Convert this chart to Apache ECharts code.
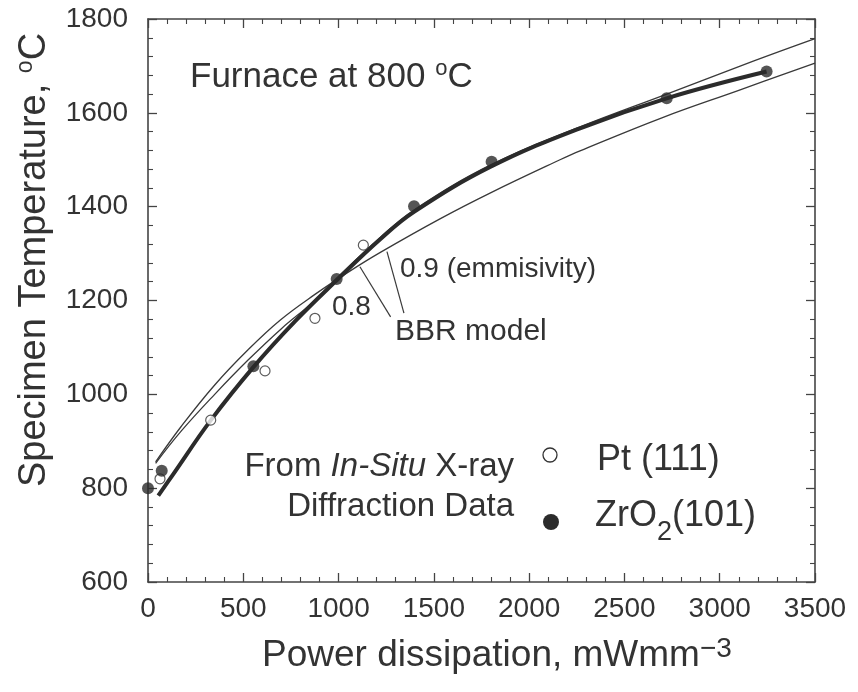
<!DOCTYPE html>
<html>
<head>
<meta charset="utf-8">
<script src="https://cdn.jsdelivr.net/npm/echarts@6/dist/echarts.min.js"></script>
<style>
html,body{margin:0;padding:0;background:#fff;}
#chart{width:858px;height:692px;}
</style>
</head>
<body>
<div id="chart"></div>
<script>
// ---- data ----
const xMin = 0, xMax = 3500, xStep = 500;
const yMin = 600, yMax = 1800, yStep = 200;

// ZrO2 (101) - filled circles
const zro2Points = [[0,800],[72,837],[553,1060],[990,1246],[1396,1401],[1803,1496],[2722,1631],[3246,1688]];
// Pt (111) - open circles
const ptPoints = [[63,820],[329,945],[614,1050],[876,1162],[1130,1318]];
// thick fitted curve through the data
const fitCurve = [[54,784],[131,829],[330,945],[553,1058],[770,1155],[990,1243],[1217,1330],[1396,1389],[1803,1486],[2267,1567],[2722,1631],[3246,1688]];
// BBR model curves (emissivity 0.8 and 0.9)
const bbr08 = [[40,853],[175,922],[350,1000],[525,1073],[700,1140],[876,1200],[990,1248],[1217,1334],[1396,1393],[1803,1490],[2267,1570],[2722,1640],[3176,1710],[3500,1758]];
const bbr09 = [[40,856],[175,932],[350,1020],[525,1095],[693,1158],[876,1213],[1049,1260],[1217,1302],[1532,1374],[1800,1430],[2162,1500],[2267,1519],[2700,1590],[3100,1648],[3500,1706]];
// annotation leader lines
const leader08 = [[1112,1272],[1273,1165]];
const leader09 = [[1254,1304],[1343,1173]];

const FONT = '"Liberation Sans", Arial, Helvetica, sans-serif';
const INK = '#333';
const AX = '#444';

const chart = echarts.init(document.getElementById('chart'));

function axisCommon(labels, margin){
  return {
    axisLine:{show:true, onZero:false, lineStyle:{color:AX, width:1.6}},
    axisTick:{show:true, inside:true, length:9, lineStyle:{color:AX, width:1.3}},
    minorTick:{show:true, splitNumber:5, length:5, lineStyle:{color:AX, width:1.1}},
    splitLine:{show:false},
    axisLabel:{show:labels, fontSize:28, color:INK, fontFamily:FONT, margin:margin,
               formatter:(v)=>String(v)}
  };
}
function xAx(pos, labels){
  return Object.assign({type:'value', min:xMin, max:xMax, interval:xStep, position:pos}, axisCommon(labels, 13));
}
function yAx(pos, labels){
  return Object.assign({type:'value', min:yMin, max:yMax, interval:yStep, position:pos}, axisCommon(labels, 20));
}

const thin = (data) => ({
  type:'line', data:data, smooth:0.4, symbol:'none', silent:true,
  lineStyle:{color:'#3a3a3a', width:1.3}, z:2
});

const option = {
  animation:false,
  grid:{left:148, top:19, width:667, height:563},
  xAxis:[xAx('bottom', true), xAx('top', false)],
  yAxis:[yAx('left', true), yAx('right', false)],
  series:[
    thin(bbr08),
    thin(bbr09),
    {type:'line', data:leader08, symbol:'none', silent:true, lineStyle:{color:'#3a3a3a', width:1.2}, z:2},
    {type:'line', data:leader09, symbol:'none', silent:true, lineStyle:{color:'#3a3a3a', width:1.2}, z:2},
    {type:'line', data:fitCurve, smooth:0.4, symbol:'none',
      lineStyle:{color:'#2b2b2b', width:4}, z:3},
    {type:'scatter', data:ptPoints, symbol:'circle', symbolSize:10,
      itemStyle:{color:'#fff', borderColor:'#333', borderWidth:1.2}, z:4},
    {type:'scatter', data:zro2Points, symbol:'circle', symbolSize:12,
      itemStyle:{color:'#2b2b2b'}, z:5}
  ],
  graphic:[
    {type:'text', left:190, top:58, style:{
      text:'{a|Furnace at 800 }{s|o}{a|C}', fill:INK,
      rich:{a:{fontSize:35, fontFamily:FONT, fill:INK, lineHeight:38},
            s:{fontSize:22, fontFamily:FONT, fill:INK, verticalAlign:'top', lineHeight:22}}
    }},
    {type:'text', x:400, y:269, style:{text:'0.9 (emmisivity)', fontSize:28, fontFamily:FONT, fill:INK, verticalAlign:'middle'}},
    {type:'text', x:332, y:307, style:{text:'0.8', fontSize:28, fontFamily:FONT, fill:INK, verticalAlign:'middle'}},
    {type:'text', x:395, y:332, style:{text:'BBR model', fontSize:30, fontFamily:FONT, fill:INK, verticalAlign:'middle'}},
    {type:'text', x:514, y:467, style:{
      text:'{a|From }{i|In-Situ}{a| X-ray}', align:'right', verticalAlign:'middle',
      rich:{a:{fontSize:33, fontFamily:FONT, fill:INK}, i:{fontSize:33, fontFamily:FONT, fontStyle:'italic', fill:INK}}
    }},
    {type:'text', x:514, y:507, style:{text:'Diffraction Data', fontSize:33, fontFamily:FONT, fill:INK, align:'right', verticalAlign:'middle'}},
    {type:'circle', shape:{cx:550, cy:455, r:7}, style:{fill:'#fff', stroke:'#333', lineWidth:1.3}},
    {type:'circle', shape:{cx:551, cy:522, r:8}, style:{fill:'#2b2b2b'}},
    {type:'text', x:597, y:460, style:{text:'Pt (111)', fontSize:36, fontFamily:FONT, fill:INK, verticalAlign:'middle'}},
    {type:'text', x:595, y:498, style:{
      text:'{a|ZrO}{s|2}{a|(101)}',
      rich:{a:{fontSize:36, fontFamily:FONT, fill:INK, lineHeight:36},
            s:{fontSize:27, fontFamily:FONT, fill:INK, verticalAlign:'bottom', lineHeight:27, padding:[0,0,-12,0]}}
    }},
    // x axis title
    {type:'text', left:262, top:635, style:{
      text:'{a|Power dissipation, mWmm}{s|\u22123}',
      rich:{a:{fontSize:37, fontFamily:FONT, fill:INK, lineHeight:41},
            s:{fontSize:28, fontFamily:FONT, fill:INK, verticalAlign:'top', lineHeight:28}}
    }},
    // y axis title
    {type:'text', x:35, y:260, rotation:Math.PI/2, style:{
      text:'{a|Specimen Temperature, }{s|o}{a|C}', align:'center', verticalAlign:'middle',
      rich:{a:{fontSize:38, fontFamily:FONT, fill:INK, lineHeight:42},
            s:{fontSize:23, fontFamily:FONT, fill:INK, verticalAlign:'top', lineHeight:23}}
    }}
  ]
};
chart.setOption(option);
</script>
</body>
</html>
